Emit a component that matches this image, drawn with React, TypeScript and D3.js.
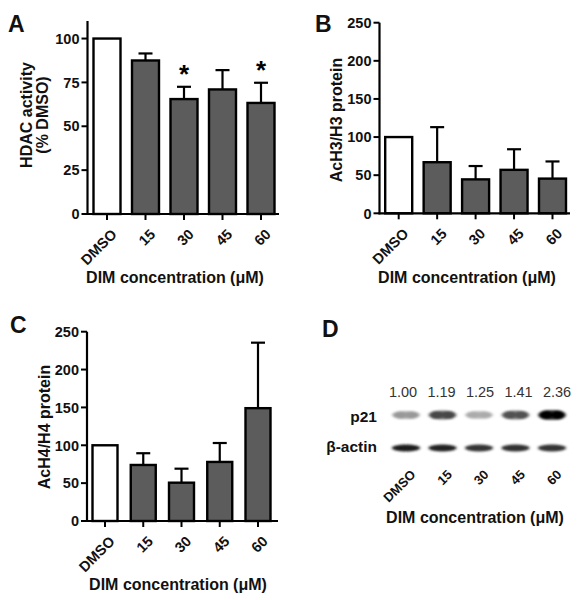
import React from "react";
import * as d3 from "d3";

const categories = ["DMSO", "15", "30", "45", "60"];
const hdacMean = [100, 87.5, 65.5, 71, 63.3];
const hdacErr = [0, 4, 7, 11, 11.5];
const hdacSig = [false, false, true, false, true];
const ach3Mean = [100, 67, 44.5, 57, 45.5];
const ach3Err = [0, 46, 17.5, 27, 22.5];
const ach4Mean = [100, 74, 50.6, 78, 149];
const ach4Err = [0, 15.5, 18.5, 25, 86.5];
const p21Ratios = ["1.00", "1.19", "1.25", "1.41", "2.36"];
const p21Intensity = [0.38, 0.72, 0.3, 0.68, 1.0];
const actinIntensity = [0.9, 0.88, 0.8, 0.82, 0.8];

const FONT = "'Liberation Sans', Arial, sans-serif";
const BAR_FILL = "#5c5c5c";

type PanelProps = {
  letter: string;
  letterX: number;
  letterY: number;
  axisX: number;
  axisEnd: number;
  y0: number;
  yTop: number;
  yMax: number;
  tickStep: number;
  centers: [number, number];
  barW: number;
  means: number[];
  errs: number[];
  sig?: boolean[];
  yTitle: string[];
  yTitleX: number[];
  yTitleY: number;
  xTitleX: number;
  xTitleY: number;
};

function BarPanel(p: PanelProps) {
  const y = d3.scaleLinear().domain([0, p.yMax]).range([p.y0, p.yTop]);
  const x = d3.scalePoint<string>().domain(categories).range(p.centers);
  const ticks = d3.range(0, p.yMax + 0.001, p.tickStep).filter((t) => t <= p.yMax);
  const capW = 14;
  return (
    <g fontFamily={FONT}>
      <text x={p.letterX} y={p.letterY} fontSize={23} fontWeight="bold" fill="#111">
        {p.letter}
      </text>
      {categories.map((c, i) => {
        const cx = x(c)!;
        const top = y(p.means[i]);
        const errTop = y(p.means[i] + p.errs[i]);
        return (
          <g key={c}>
            {p.errs[i] > 0 && (
              <g stroke="#000" strokeWidth={2.2}>
                <line x1={cx} x2={cx} y1={top} y2={errTop} />
                <line x1={cx - capW / 2} x2={cx + capW / 2} y1={errTop} y2={errTop} />
              </g>
            )}
            <rect
              x={cx - p.barW / 2}
              y={top}
              width={p.barW}
              height={p.y0 - top}
              fill={i === 0 ? "#fff" : BAR_FILL}
              stroke="#000"
              strokeWidth={2.4}
            />
            {p.sig && p.sig[i] && (
              <text
                x={cx}
                y={errTop - 2}
                textAnchor="middle"
                fontSize={26}
                fontWeight="bold"
                dy="0.55em"
                transform={`translate(0,-16)`}
              >
                *
              </text>
            )}
            <line x1={cx} x2={cx} y1={p.y0} y2={p.y0 + 6} stroke="#000" strokeWidth={2} />
            <text
              transform={`translate(${cx + 3.5},${p.y0 + 14}) rotate(-45)`}
              textAnchor="end"
              dy="0.7em"
              fontSize={14.5}
              fontWeight="bold"
              fill="#111"
            >
              {c}
            </text>
          </g>
        );
      })}
      <line x1={p.axisX} x2={p.axisX} y1={p.yTop} y2={p.y0 + 1} stroke="#000" strokeWidth={2.2} />
      <line x1={p.axisX - 1} x2={p.axisEnd} y1={p.y0} y2={p.y0} stroke="#000" strokeWidth={2.2} />
      {ticks.map((t) => (
        <g key={t}>
          <line x1={p.axisX - 6} x2={p.axisX} y1={y(t)} y2={y(t)} stroke="#000" strokeWidth={2} />
          <text
            x={p.axisX - 8}
            y={y(t)}
            dy="0.36em"
            textAnchor="end"
            fontSize={14.5}
            fontWeight="bold"
            fill="#111"
          >
            {t}
          </text>
        </g>
      ))}
      {p.yTitle.map((line, k) => (
        <text
          key={k}
          transform={`translate(${p.yTitleX[k]},${p.yTitleY}) rotate(-90)`}
          textAnchor="middle"
          fontSize={16}
          fontWeight="bold"
          fill="#111"
        >
          {line}
        </text>
      ))}
      <text x={p.xTitleX} y={p.xTitleY} textAnchor="middle" fontSize={16} fontWeight="bold" fill="#111">
        DIM concentration (μM)
      </text>
    </g>
  );
}

function BlotPanel() {
  const x = d3.scalePoint<string>().domain(categories).range([406, 552]);
  const numX = d3.scalePoint<string>().domain(categories).range([403, 557]);
  const gray = d3.interpolateRgb("#f2f2f2", "#050505");
  return (
    <g fontFamily={FONT}>
      <defs>
        <filter id="blur" x="-50%" y="-100%" width="200%" height="300%">
          <feGaussianBlur stdDeviation="1.5 1.2" />
        </filter>
      </defs>
      <text x={322} y={337} fontSize={23} fontWeight="bold" fill="#111">
        D
      </text>
      {categories.map((c, i) => (
        <text key={"n" + c} x={numX(c)!} y={397} textAnchor="middle" fontSize={14.5} fill="#333">
          {p21Ratios[i]}
        </text>
      ))}
      <text x={377} y={416} dy="0.36em" textAnchor="end" fontSize={15.5} fontWeight="bold" fill="#111">
        p21
      </text>
      <text x={377} y={446} dy="0.36em" textAnchor="end" fontSize={15.5} fontWeight="bold" fill="#111">
        β-actin
      </text>
      <g filter="url(#blur)">
        {categories.map((c, i) => {
          const cx = x(c)!;
          const col = gray(p21Intensity[i]);
          const col2 = gray(actinIntensity[i]);
          const ry = 3.5 + p21Intensity[i] * 1.5;
          return (
            <g key={"b" + c}>
              <ellipse cx={cx} cy={415} rx={14} ry={ry} fill={col} opacity={0.75} />
              <ellipse cx={cx - 6} cy={415} rx={6.5} ry={ry - 0.5} fill={col} />
              <ellipse cx={cx + 6} cy={415} rx={6.5} ry={ry - 0.5} fill={col} />
              <ellipse cx={cx} cy={448} rx={14} ry={3.4} fill={col2} />
            </g>
          );
        })}
      </g>
      {categories.map((c) => (
        <text
          key={"t" + c}
          transform={`translate(${x(c)! + 4},${469}) rotate(-45)`}
          textAnchor="end"
          dy="0.7em"
          fontSize={13}
          fontWeight="bold"
          fill="#111"
        >
          {c}
        </text>
      ))}
      <text x={475} y={523} textAnchor="middle" fontSize={16} fontWeight="bold" fill="#111">
        DIM concentration (μM)
      </text>
    </g>
  );
}

export default function App() {
  return (
    <svg width={584} height={600} style={{ display: "block", position: "absolute", left: 0, top: 0, background: "#fff" }}>
      <rect width={584} height={600} fill="#fff" />
      <BarPanel
        letter="A"
        letterX={8}
        letterY={32}
        axisX={87.5}
        axisEnd={279}
        y0={214}
        yTop={21}
        yMax={110}
        tickStep={25}
        centers={[107, 261]}
        barW={27}
        means={hdacMean}
        errs={hdacErr}
        sig={hdacSig}
        yTitle={["HDAC activity", "(% DMSO)"]}
        yTitleX={[32, 48]}
        yTitleY={115}
        xTitleX={175}
        xTitleY={283}
      />
      <BarPanel
        letter="B"
        letterX={315}
        letterY={32}
        axisX={379.5}
        axisEnd={570}
        y0={213.3}
        yTop={22.7}
        yMax={250}
        tickStep={50}
        centers={[398.7, 552.5]}
        barW={27}
        means={ach3Mean}
        errs={ach3Err}
        yTitle={["AcH3/H3 protein"]}
        yTitleX={[342]}
        yTitleY={120}
        xTitleX={467}
        xTitleY={283}
      />
      <BarPanel
        letter="C"
        letterX={10}
        letterY={333}
        axisX={87}
        axisEnd={278}
        y0={521}
        yTop={331.7}
        yMax={250}
        tickStep={50}
        centers={[105, 258]}
        barW={25}
        means={ach4Mean}
        errs={ach4Err}
        yTitle={["AcH4/H4 protein"]}
        yTitleX={[50]}
        yTitleY={427}
        xTitleX={178}
        xTitleY={590}
      />
      <BlotPanel />
    </svg>
  );
}
